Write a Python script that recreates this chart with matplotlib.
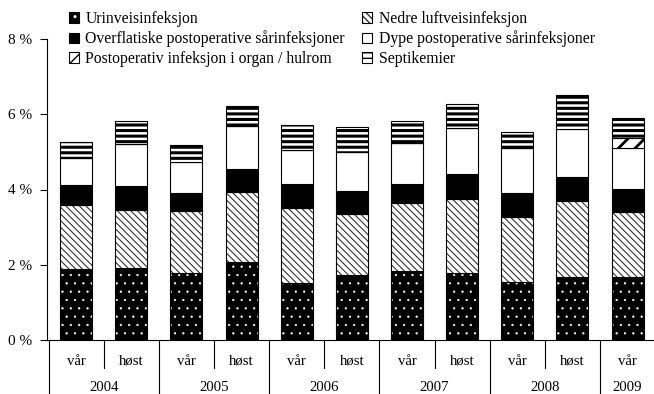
import matplotlib
matplotlib.use("Agg")
import matplotlib.pyplot as plt
from matplotlib.patches import Rectangle
from matplotlib.transforms import blended_transform_factory
from matplotlib.legend_handler import HandlerTuple
import numpy as np

# ---- data ----
seasons = ["vår", "høst", "vår", "høst", "vår", "høst", "vår", "høst", "vår", "høst", "vår"]
years = ["2004", "2004", "2005", "2005", "2006", "2006", "2007", "2007", "2008", "2008", "2009"]
urin = [1.88, 1.91, 1.77, 2.07, 1.52, 1.73, 1.84, 1.77, 1.55, 1.68, 1.68]
nedre = [1.72, 1.55, 1.66, 1.87, 2.00, 1.62, 1.79, 1.99, 1.73, 2.02, 1.71]
overfl = [0.51, 0.64, 0.47, 0.60, 0.62, 0.62, 0.51, 0.65, 0.62, 0.62, 0.62]
dype = [0.72, 1.10, 0.84, 1.15, 0.91, 1.02, 1.09, 1.22, 1.20, 1.28, 1.09]
organ = [0, 0, 0, 0, 0, 0, 0, 0, 0, 0, 0.28]
septik = [0.43, 0.61, 0.43, 0.54, 0.66, 0.66, 0.58, 0.63, 0.44, 0.92, 0.53]
series_names = ["Urinveisinfeksjon", "Nedre luftveisinfeksjon",
                "Overflatiske postoperative sårinfeksjoner", "Dype postoperative sårinfeksjoner",
                "Postoperativ infeksjon i organ / hulrom", "Septikemier"]
yticks = [0, 2, 4, 6, 8]
ytick_labels = ["0 %", "2 %", "4 %", "6 %", "8 %"]

# ---- style ----
plt.rcParams['font.family'] = ['Liberation Serif', 'DejaVu Serif']
FS = 11.0
FS_LEG = 11.3
FS_CAT = 10.6
styles = [
    dict(face='black', hatch='..', hc='white', hlw=0.4),
    dict(face='white', hatch='\\\\\\\\\\', hc='#333333', hlw=0.8),
    dict(face='black', hatch=None, hc='black', hlw=1.0),
    dict(face='white', hatch=None, hc='black', hlw=1.0),
    dict(face='white', hatch='//', hc='black', hlw=2.0),
    dict(face='white', hatch='---', hc='black', hlw=2.2),
]
series = [urin, nedre, overfl, dype, organ, septik]

fig = plt.figure(figsize=(6.54, 3.94), dpi=100)
ax = fig.add_axes([47 / 654, 54 / 394, 607 / 654, 301 / 394])

x = np.arange(len(seasons))
width = 0.58
bottom = np.zeros(len(x))
handles = []
for vals, st, name in zip(series, styles, series_names):
    vals = np.array(vals, dtype=float)
    with plt.rc_context({'hatch.linewidth': st['hlw']}):
        ax.bar(x, vals, width, bottom=bottom, color=st['face'], hatch=st['hatch'],
               edgecolor=st['hc'], linewidth=0)
        hp = Rectangle((0, 0), 1, 1, facecolor=st['face'], hatch=st['hatch'],
                       edgecolor=st['hc'], linewidth=0)
    ax.bar(x, vals, width, bottom=bottom, fill=False, edgecolor='black', linewidth=0.8)
    op = Rectangle((0, 0), 1, 1, fill=False, edgecolor='black', linewidth=0.8)
    handles.append((hp, op))
    bottom += vals

ax.set_ylim(0, 8)
ax.set_xlim(-0.53, 10.48)
ax.set_yticks(yticks)
ax.set_yticklabels(ytick_labels, fontsize=FS)
ax.set_xticks([])
ax.tick_params(axis='y', direction='out', length=5, width=0.8, pad=6)
for s in ['top', 'right']:
    ax.spines[s].set_visible(False)
for s in ['left', 'bottom']:
    ax.spines[s].set_linewidth(0.8)

# ---- category axis ----
tr = blended_transform_factory(ax.transData, ax.transAxes)
for i, s in enumerate(seasons):
    ax.text(i, -0.07, s, transform=tr, ha='center', va='center', fontsize=FS_CAT)
uniq_years = []
for yv in years:
    if yv not in uniq_years:
        uniq_years.append(yv)
for yv in uniq_years:
    idx = [i for i, v in enumerate(years) if v == yv]
    ax.text(np.mean(idx), -0.157, yv, transform=tr, ha='center', va='center', fontsize=FS_CAT)
for i in range(len(seasons) - 1):
    b = i + 0.5
    long = years[i] != years[i + 1]
    ax.plot([b, b], [0, -0.185 if long else -0.093], transform=tr, color='black',
            lw=0.8, clip_on=False)
ax.plot([-0.5, -0.5], [0, -0.185], transform=tr, color='black', lw=0.8, clip_on=False)

# ---- legend ----
order = [0, 2, 4, 1, 3, 5]
fig.legend([handles[i] for i in order], [series_names[i] for i in order],
           ncol=2, loc='upper left', bbox_to_anchor=(69 / 654, 1 - 11 / 394),
           frameon=False, fontsize=FS_LEG, borderpad=0, borderaxespad=0,
           handlelength=0.65, handleheight=0.65, handletextpad=0.4,
           columnspacing=1.1, labelspacing=0.22,
           handler_map={tuple: HandlerTuple(ndivide=1, pad=0)})

fig.savefig("out.png", dpi=100)
